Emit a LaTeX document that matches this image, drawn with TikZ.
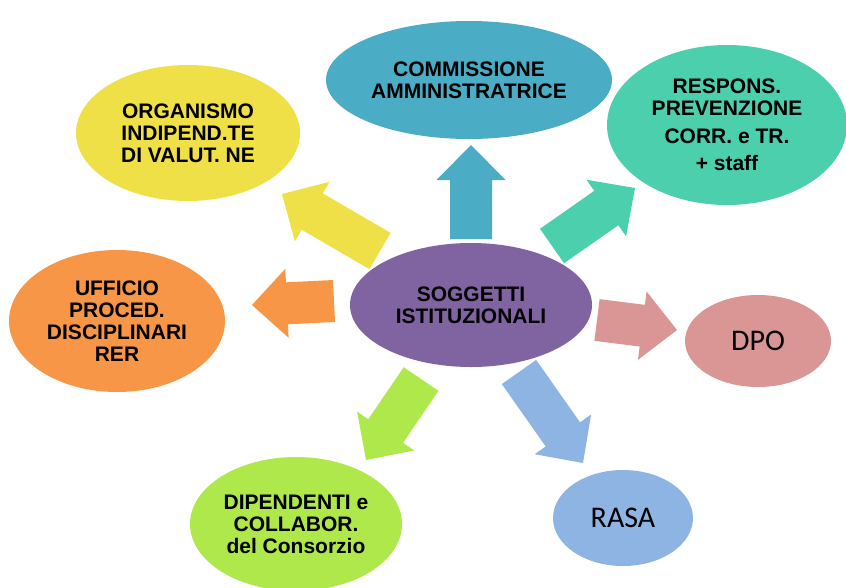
\documentclass[tikz,border=0pt]{standalone}
\usepackage{fontspec}
\setmainfont{Liberation Sans}
\newfontfamily\carlito{Carlito}
\usetikzlibrary{shapes.geometric,calc}

\definecolor{purplesog}{HTML}{8064A2}
\definecolor{tealcomm}{HTML}{4BACC6}
\definecolor{greenresp}{HTML}{4CCFAD}
\definecolor{yelloworg}{HTML}{F0E047}
\definecolor{orangeuff}{HTML}{F79646}
\definecolor{pinkdpo}{HTML}{D99694}
\definecolor{bluerasa}{HTML}{8DB4E2}
\definecolor{limedip}{HTML}{AEE84A}

% block arrow: colour, tail, tip
\newcommand{\blockarrow}[3]{%
  \coordinate (h) at ($(#3)!35pt!(#2)$);
  \fill[#1] ($(#2)!21pt!90:(#3)$) -- ($(h)!21pt!90:(#3)$) -- ($(h)!34.5pt!90:(#3)$)
    -- (#3) -- ($(h)!34.5pt!-90:(#3)$) -- ($(h)!21pt!-90:(#3)$) -- ($(#2)!21pt!-90:(#3)$) -- cycle;
}

\begin{document}
\begin{tikzpicture}[x=1pt,y=-1pt]
        \tikzstyle{soggetto}=[ellipse,inner sep=0pt,align=center,font=\fontsize{21}{22}\selectfont\bfseries]
        \tikzstyle{sigla}=[ellipse,inner sep=0pt,align=center,font=\fontsize{30}{32}\selectfont\carlito]
        \useasboundingbox (0,0) rectangle (846,587);

        \coordinate (a1) at (471,239); \coordinate (b1) at (471,145);
        \coordinate (a2) at (380,251); \coordinate (b2) at (282,194);
        \coordinate (a3) at (552,246); \coordinate (b3) at (635,188);
        \coordinate (a4) at (597,320); \coordinate (b4) at (677,330);
        \coordinate (a5) at (334,301); \coordinate (b5) at (252,305);
        \coordinate (a6) at (421,379); \coordinate (b6) at (366,460);
        \coordinate (a7) at (519,372); \coordinate (b7) at (583,463);

        \blockarrow{tealcomm}{a1}{b1}
        \blockarrow{yelloworg}{a2}{b2}
        \blockarrow{greenresp}{a3}{b3}
        \blockarrow{pinkdpo}{a4}{b4}
        \blockarrow{orangeuff}{a5}{b5}
        \blockarrow{limedip}{a6}{b6}
        \blockarrow{bluerasa}{a7}{b7}

        \node[soggetto,fill=purplesog,minimum width=242pt,minimum height=124pt] (sog) at (471,305) {SOGGETTI\\ISTITUZIONALI};
        \node[soggetto,fill=tealcomm,minimum width=286pt,minimum height=118pt] (comm) at (469,80) {COMMISSIONE\\AMMINISTRATRICE};
        \node[soggetto,fill=greenresp,minimum width=240pt,minimum height=160pt] (resp) at (727,125) {RESPONS.\\PREVENZIONE\\[6pt]CORR. e TR.\\[5pt]+ staff};
        \node[soggetto,fill=yelloworg,minimum width=224pt,minimum height=136pt] (org) at (188,133) {ORGANISMO\\INDIPEND.TE\\DI VALUT. NE};
        \node[soggetto,fill=orangeuff,minimum width=216pt,minimum height=142pt] (uff) at (117,321) {UFFICIO\\PROCED.\\DISCIPLINARI\\RER};
        \node[sigla,fill=pinkdpo,minimum width=146pt,minimum height=92pt] (dpo) at (758,341) {DPO};
        \node[sigla,fill=bluerasa,minimum width=140pt,minimum height=96pt] (rasa) at (623,518) {RASA};
        \node[soggetto,fill=limedip,minimum width=212pt,minimum height=134pt] (dip) at (296,524) {DIPENDENTI e\\COLLABOR.\\del Consorzio};
\end{tikzpicture}
\end{document}
